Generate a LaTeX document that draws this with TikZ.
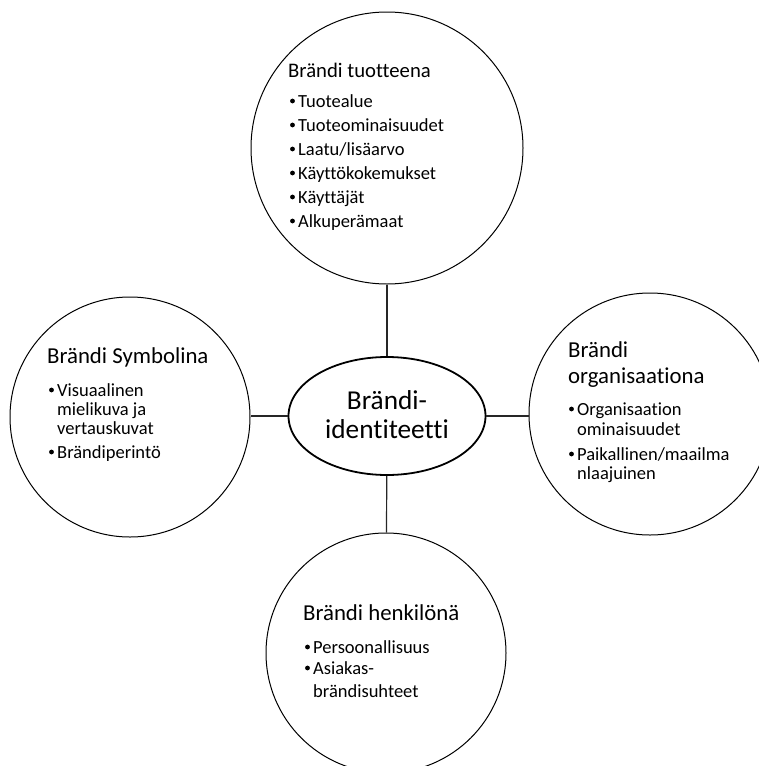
\documentclass[tikz,border=0pt]{standalone}
\usepackage{fontspec}
\setmainfont{Carlito}[Ligatures=NoCommon]
\usetikzlibrary{shapes.geometric}
\begin{document}
\begin{tikzpicture}[x=1pt,y=-1pt,
  bubble/.style={draw=black, line width=1pt, circle, inner sep=0pt},
  core/.style={draw=black, line width=1.8pt, ellipse, inner sep=0pt,
               minimum width=197pt, minimum height=118pt},
  link/.style={draw=black!85, line width=1.2pt},
  head/.style={anchor=base west, inner sep=0pt, font=\fontsize{22.8}{27}\selectfont},
  item/.style={anchor=base west, inner sep=0pt, font=\fontsize{18.5}{22}\selectfont},
  dot/.style={circle, fill=black, inner sep=0pt, minimum size=4.8pt}]
\useasboundingbox (0,0) rectangle (759,766);
\clip (0,0) rectangle (759,766);

% the four surrounding circles and the central ellipse
\node[bubble, minimum size=272pt] (top)    at (387,148) {};
\node[bubble, minimum size=240pt] (left)   at (130,417) {};
\node[bubble, minimum size=242pt] (right)  at (650,414) {};
\node[bubble, minimum size=240pt] (bottom) at (386,653) {};
\node[core] (ell) at (387,416) {};

% connectors
\draw[link] (top) -- (ell);
\draw[link] (ell.west) -- (ell.west -| left.east);
\draw[link] (ell.east) -- (ell.east -| right.west);
\draw[link] (ell) -- (bottom);

% centre text
\node[anchor=base, inner sep=0pt, font=\fontsize{27.3}{30}\selectfont] (c1) at (387,409) {Brändi-};
\node[anchor=base, inner sep=0pt, font=\fontsize{27.3}{30}\selectfont] (c2) at (387,438) {identiteetti};

% top circle: Brändi tuotteena
\node[head, font=\fontsize{20.7}{25}\selectfont] (t0) at (288,77) {Brändi tuotteena};
\node[item] (t1) at (298,107) {Tuotealue};
\node[item] (t2) at (298,131) {Tuoteominaisuudet};
\node[item] (t3) at (298,155) {Laatu/lisäarvo};
\node[item] (t4) at (298,179) {Käyttökokemukset};
\node[item] (t5) at (298,203) {Käyttäjät};
\node[item] (t6) at (298,227) {Alkuperämaat};
\foreach \yy [count=\k] in {107,131,155,179,203,227}
  \node[dot] (td\k) at (292.5,\yy-6) {};

% left circle: Brändi Symbolina
\node[head] (l0) at (47,363) {Brändi Symbolina};
\node[item] (l1) at (57,396) {Visuaalinen};
\node[item] (l2) at (57,415) {mielikuva ja};
\node[item] (l3) at (57,434) {vertauskuvat};
\node[item] (l4) at (57,458) {Brändiperintö};
\node[dot] (ld1) at (51.5,390) {};
\node[dot] (ld2) at (51.5,452) {};

% right circle: Brändi organisaationa
\node[head] (r0) at (568,357) {Brändi};
\node[head] (r1) at (568,383) {organisaationa};
\node[item] (r2) at (577,415) {Organisaation};
\node[item] (r3) at (577,435) {ominaisuudet};
\node[item] (r4) at (577,460) {Paikallinen/maailma};
\node[item] (r5) at (577,479) {nlaajuinen};
\node[dot] (rd1) at (571.5,409) {};
\node[dot] (rd2) at (571.5,454) {};

% bottom circle: Brändi henkilönä
\node[head] (b0) at (303,620) {Brändi henkilönä};
\node[item] (b1) at (313,653) {Persoonallisuus};
\node[item] (b2) at (313,674) {Asiakas-};
\node[item] (b3) at (313,697) {brändisuhteet};
\node[dot] (bd1) at (307.5,647) {};
\node[dot] (bd2) at (307.5,668) {};
\end{tikzpicture}
\end{document}
